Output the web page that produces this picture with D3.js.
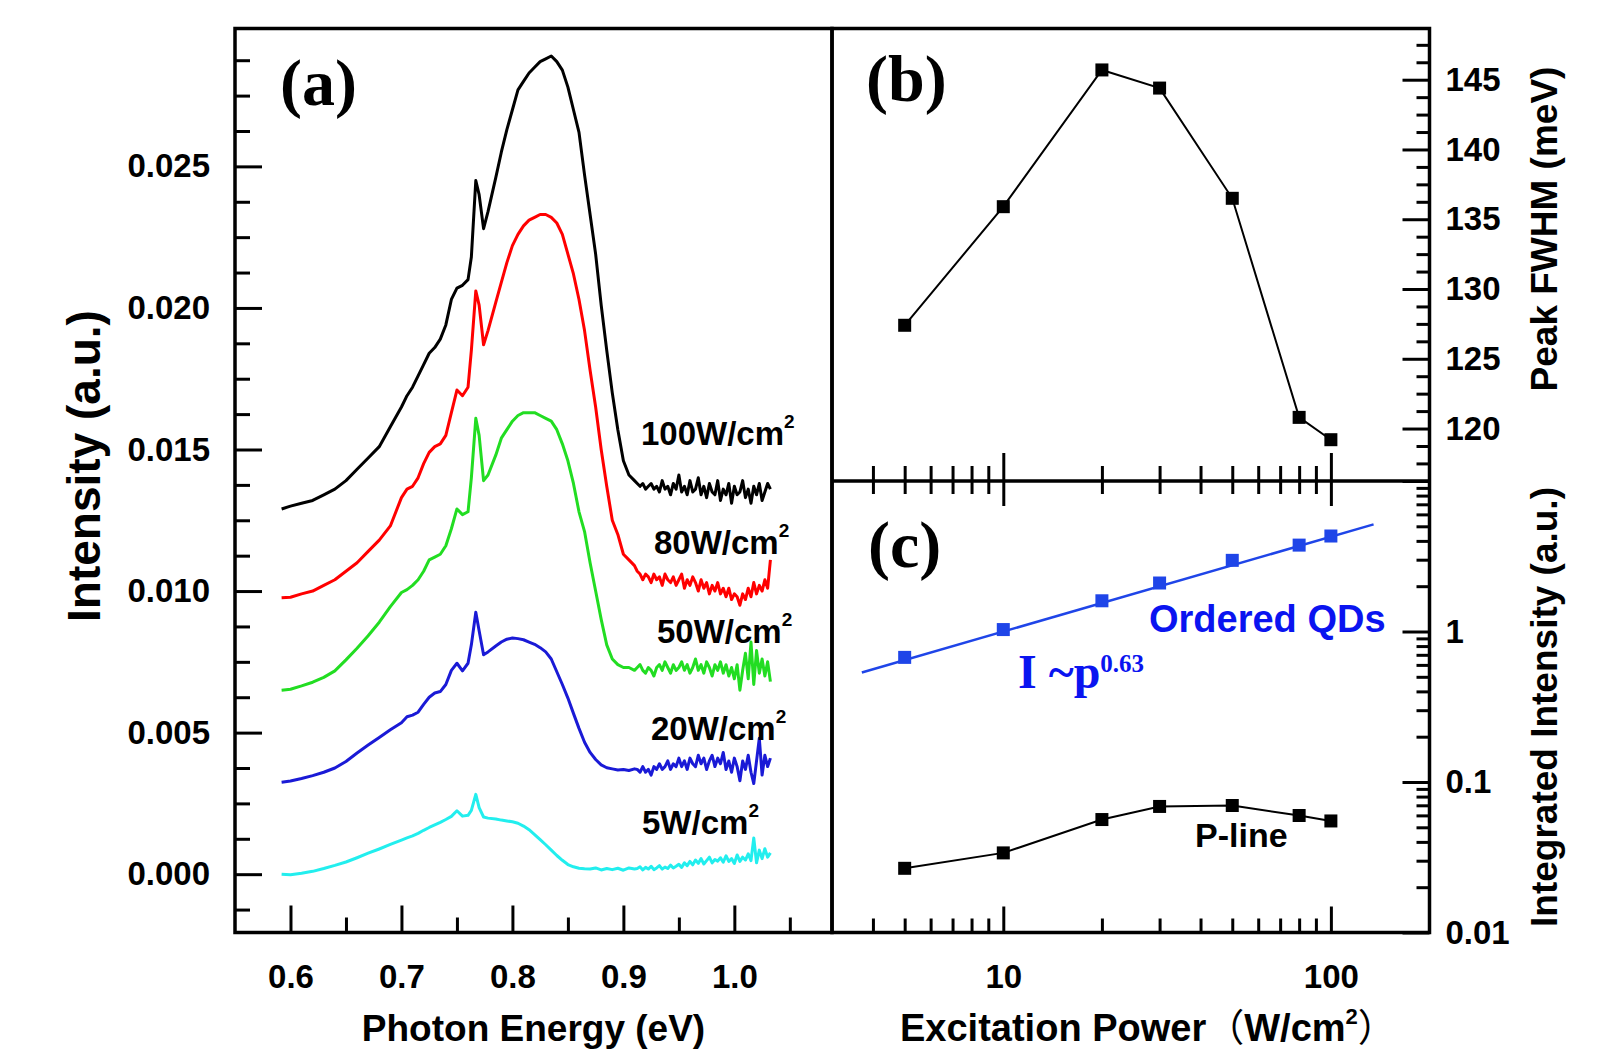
<!DOCTYPE html>
<html>
<head>
<meta charset="utf-8">
<title>PL spectra vs excitation power</title>
<script src="https://cdn.jsdelivr.net/npm/d3@7/dist/d3.min.js"></script>
<style>
  body { margin: 0; background: #fff; }
</style>
</head>
<body>
<div id="chart"></div>
<script>
// (a) PL spectra - photon energy (eV), intensity (a.u.)
const energy = [
  0.592, 0.600, 0.610, 0.620, 0.630, 0.640, 0.650, 0.660, 0.670, 0.680,
  0.690, 0.700, 0.705, 0.710, 0.715, 0.720, 0.725, 0.730, 0.735, 0.740,
  0.745, 0.750, 0.755, 0.760, 0.763, 0.767, 0.770, 0.774, 0.778, 0.785,
  0.790, 0.795, 0.800, 0.805, 0.810, 0.815, 0.820, 0.825, 0.830, 0.835,
  0.840, 0.845, 0.850, 0.855, 0.860, 0.865, 0.870, 0.875, 0.880, 0.885,
  0.890, 0.895, 0.900, 0.905, 0.910,
  0.9125, 0.915, 0.9175, 0.920, 0.9225, 0.925, 0.9275, 0.930, 0.9325, 0.935,
  0.9375, 0.940, 0.9425, 0.945, 0.9475, 0.950, 0.9525, 0.955, 0.9575, 0.960,
  0.9625, 0.965, 0.9675, 0.970, 0.9725, 0.975, 0.9775, 0.980, 0.9825, 0.985,
  0.9875, 0.990, 0.9925, 0.995, 0.9975, 1.000, 1.0025, 1.005, 1.0075, 1.010,
  1.0125, 1.015, 1.0175, 1.020, 1.0225, 1.025, 1.0275, 1.030, 1.0325
];

const int100 = [
  0.0129, 0.0130, 0.0131, 0.0132, 0.0134, 0.0136, 0.0139, 0.0143, 0.0147, 0.0151,
  0.0158, 0.0165, 0.0169, 0.0172, 0.0176, 0.0180, 0.0184, 0.0186, 0.0189, 0.0194,
  0.0203, 0.0207, 0.0208, 0.0210, 0.0218, 0.0245, 0.0240, 0.0228, 0.0234, 0.0246,
  0.0255, 0.0263, 0.0270, 0.0277, 0.0280, 0.0283, 0.0285, 0.0287, 0.0288, 0.0289,
  0.0287, 0.0284, 0.0278, 0.0270, 0.0262, 0.0247, 0.0233, 0.0219, 0.0201, 0.0185,
  0.0170, 0.0157, 0.0146, 0.0141, 0.0139,
  0.0138, 0.0137, 0.0138, 0.0136, 0.0137, 0.0138, 0.0136, 0.0137, 0.0135, 0.0139,
  0.0136, 0.0137, 0.0134, 0.0138, 0.0136, 0.0141, 0.0135, 0.0137, 0.0134, 0.0139,
  0.0135, 0.0136, 0.0140, 0.0134, 0.0137, 0.0133, 0.0138, 0.0135, 0.0134, 0.0139,
  0.0132, 0.0136, 0.0134, 0.0138, 0.0131, 0.0137, 0.0134, 0.0135, 0.0139, 0.0133,
  0.0136, 0.0131, 0.0137, 0.0134, 0.0138, 0.0132, 0.0135, 0.0138, 0.0136
];

const int80 = [
  0.00976, 0.00978, 0.0099, 0.0100, 0.0102, 0.0104, 0.0107, 0.0110, 0.0114, 0.0118,
  0.0123, 0.0133, 0.0136, 0.0137, 0.0140, 0.0145, 0.0149, 0.0151, 0.0152, 0.0155,
  0.0163, 0.0171, 0.0169, 0.0172, 0.0185, 0.0206, 0.0201, 0.0187, 0.0192, 0.0202,
  0.0209, 0.0216, 0.0222, 0.0226, 0.0229, 0.0231, 0.0232, 0.0233, 0.0233, 0.0232,
  0.0230, 0.0226, 0.0219, 0.0212, 0.0203, 0.0192, 0.0178, 0.0165, 0.0150, 0.0137,
  0.0125, 0.0120, 0.0113, 0.0111, 0.0109,
  0.0107, 0.0106, 0.0104, 0.0106, 0.0105, 0.0103, 0.0106, 0.0104, 0.0105, 0.0102,
  0.0106, 0.0104, 0.0103, 0.0105, 0.0102, 0.0104, 0.0106, 0.0101, 0.0104, 0.0102,
  0.0105, 0.0103, 0.0100, 0.0104, 0.0101, 0.0103, 0.0099, 0.0102, 0.0100, 0.0103,
  0.0099, 0.0101, 0.0098, 0.0101, 0.0097, 0.0099, 0.0098, 0.0095, 0.0099, 0.0097,
  0.0101, 0.0098, 0.0103, 0.0099, 0.0102, 0.0100, 0.0104, 0.0101, 0.0111
];

const int50 = [
  0.00650, 0.00653, 0.00665, 0.00678, 0.00695, 0.00718, 0.00757, 0.00798, 0.00842, 0.00890,
  0.00945, 0.00995, 0.01005, 0.0102, 0.0104, 0.0107, 0.0111, 0.0112, 0.0113, 0.0116,
  0.0122, 0.0129, 0.0127, 0.0128, 0.0140, 0.0161, 0.0155, 0.0139, 0.0141, 0.0148,
  0.0154, 0.0157, 0.0160, 0.0162, 0.0163, 0.0163, 0.0163, 0.0162, 0.0161, 0.0160,
  0.0157, 0.0152, 0.0146, 0.0138, 0.0128, 0.0121, 0.0110, 0.0100, 0.0090, 0.0081,
  0.0076, 0.0074, 0.0073, 0.0073, 0.0072,
  0.0073, 0.0074, 0.0072, 0.0071, 0.0073, 0.0072, 0.0070, 0.0073, 0.0074, 0.0072,
  0.0075, 0.0073, 0.0071, 0.0074, 0.0072, 0.0073, 0.0075, 0.0072, 0.0074, 0.0071,
  0.0073, 0.0076, 0.0072, 0.0074, 0.0071, 0.0075, 0.0073, 0.0070, 0.0074, 0.0072,
  0.0075, 0.0071, 0.0074, 0.0070, 0.0073, 0.0069, 0.0074, 0.0065, 0.0072, 0.0078,
  0.0069, 0.0082, 0.0067, 0.0079, 0.0071, 0.0076, 0.0070, 0.0075, 0.0068
];

const int20 = [
  0.00325, 0.00329, 0.00338, 0.00348, 0.00360, 0.00375, 0.00398, 0.00428, 0.00456, 0.00483,
  0.00510, 0.00535, 0.00556, 0.00562, 0.00572, 0.00600, 0.00625, 0.00640, 0.00645, 0.00670,
  0.00720, 0.00745, 0.00718, 0.00745, 0.00810, 0.00925, 0.00860, 0.00775, 0.00785, 0.00806,
  0.00820, 0.00830, 0.00834, 0.00832, 0.00828, 0.00820, 0.00812, 0.00800, 0.00785, 0.00760,
  0.00715, 0.00670, 0.00622, 0.00568, 0.00515, 0.00466, 0.00430, 0.00405, 0.00386, 0.00376,
  0.00372, 0.00368, 0.00370, 0.00366, 0.00372,
  0.0037, 0.0036, 0.0038, 0.0036, 0.0037, 0.0035, 0.0038, 0.0037, 0.0039, 0.0037,
  0.0038, 0.0040, 0.0037, 0.0039, 0.0038, 0.0041, 0.0038, 0.0040, 0.0037, 0.0041,
  0.0039, 0.0038, 0.0042, 0.0039, 0.0041, 0.0037, 0.0040, 0.0042, 0.0038, 0.0041,
  0.0039, 0.0043, 0.0037, 0.0040, 0.0036, 0.0041, 0.0038, 0.0033, 0.0040, 0.0037,
  0.0042, 0.0036, 0.0032, 0.0040, 0.0048, 0.0035, 0.0042, 0.0038, 0.0041
];

const int5 = [
  0.00000, -0.00002, 0.00003, 0.00010, 0.00020, 0.00031, 0.00043, 0.00058, 0.00074, 0.00089,
  0.00105, 0.00120, 0.00128, 0.00135, 0.00144, 0.00155, 0.00165, 0.00174, 0.00183, 0.00193,
  0.00204, 0.00224, 0.00205, 0.00208, 0.00225, 0.00282, 0.00235, 0.00202, 0.00198, 0.00195,
  0.00191, 0.00188, 0.00185, 0.00180, 0.00170, 0.00157, 0.00140, 0.00122, 0.00104, 0.00085,
  0.00066, 0.00049, 0.00034, 0.00026, 0.00021, 0.00019, 0.00018, 0.00022, 0.00015, 0.00020,
  0.00016, 0.00021, 0.00014, 0.00022, 0.00018,
  0.00020, 0.00026, 0.00015, 0.00024, 0.00018, 0.00028, 0.00016, 0.00022, 0.00030, 0.00018,
  0.00025, 0.00020, 0.00032, 0.00022, 0.00028, 0.00035, 0.00024, 0.00040, 0.00030, 0.00045,
  0.00033, 0.00050, 0.00038, 0.00055, 0.00036, 0.00048, 0.00060, 0.00040, 0.00052, 0.00046,
  0.00058, 0.00042, 0.00065, 0.00045, 0.00055, 0.00038, 0.00068, 0.00045, 0.00060, 0.00050,
  0.00072, 0.00048, 0.00128, 0.00040, 0.00085, 0.00055, 0.00090, 0.00060, 0.00075
];

const powerLabels = ["100", "80", "50", "20", "5"];

// (b) Peak FWHM (meV) vs excitation power (W/cm2)
const powerB = [5, 10, 20, 30, 50, 80, 100];
const fwhm = [127.4, 135.9, 145.7, 144.4, 136.5, 120.8, 119.2];

// (c) Integrated intensity (a.u.) vs excitation power
const powerC = [5, 10, 20, 30, 50, 80, 100];
const qdIntensity = [0.673, 1.03, 1.60, 2.10, 2.97, 3.75, 4.31];
const pLineIntensity = [0.0267, 0.0338, 0.0563, 0.0688, 0.0698, 0.0599, 0.0551];
const fitPower = [3.7, 135];
const fitIntensity = [0.534, 5.15];

// Tick labels
const energyTicks = [0.6, 0.7, 0.8, 0.9, 1.0];
const energyMinor = [0.65, 0.75, 0.85, 0.95, 1.05];
const intensityTicks = [0, 0.005, 0.01, 0.015, 0.02, 0.025];
const fwhmTicks = [120, 125, 130, 135, 140, 145];
const powerTicks = [10, 100];
const powerMinor = [4, 5, 6, 7, 8, 9, 20, 30, 40, 50, 60, 70, 80, 90];
const intCTicks = [0.01, 0.1, 1, 10];

// Styles
const SANS = "Arial, 'Liberation Sans', sans-serif";
const SERIF = "'Times New Roman', 'Liberation Serif', serif";
const CJK = "'Noto Sans CJK SC', 'Noto Sans CJK JP', sans-serif";
const lineColors = ["#000000", "#ff0000", "#22dd22", "#1a1ad6", "#22eeee"];
const qdBlue = "#1f45e8";

const svg = d3.select("#chart")
  .append("svg")
  .attr("width", 1608)
  .attr("height", 1051)
  .style("background", "#fff");

function styleAxis(g, size) {
  g.select(".domain").remove();
  g.selectAll(".tick line").attr("stroke", "#000").attr("stroke-width", 3);
  g.selectAll(".tick text").attr("fill", "#000");
  g.attr("font-family", SANS).attr("font-weight", "bold").attr("font-size", size);
}

function addTicks(axis, y, x, size) {
  var g = svg.append("g").attr("transform", "translate(" + x + "," + y + ")").call(axis);
  styleAxis(g, size || 33);
  return g;
}

// Panel (a)
class SpectraPanel {
  constructor() {
    this.initVis();
  }

  initVis() {
    var self = this;
    self.left = 235; self.right = 832; self.top = 28.5; self.bottom = 932.5;

    // Scales
    self.x = d3.scaleLinear().domain([0.55, 1.088]).range([self.left, self.right]);
    self.y = d3.scaleLinear().domain([-0.00206, 0.02987]).range([self.bottom, self.top]);

    // Minor ticks every 0.00125
    self.yMinor = d3.range(-0.00125, 0.0295, 0.00125)
      .filter(v => Math.abs(Math.round(v / 0.00125)) % 4 !== 0);

    addTicks(d3.axisLeft(self.y).tickValues(intensityTicks).tickSize(-27)
      .tickPadding(25).tickFormat(d3.format(".3f")), 0, self.left);
    addTicks(d3.axisLeft(self.y).tickValues(self.yMinor).tickSize(-15)
      .tickFormat(""), 0, self.left);
    addTicks(d3.axisBottom(self.x).tickValues(energyTicks).tickSize(-27)
      .tickPadding(32).tickFormat(d3.format(".1f")), self.bottom, 0);
    addTicks(d3.axisBottom(self.x).tickValues(energyMinor).tickSize(-15)
      .tickFormat(""), self.bottom, 0);

    self.updateVis();
  }

  updateVis() {
    var self = this;
    const series = [int100, int80, int50, int20, int5];

    const line = d3.line()
      .x((d, i) => self.x(energy[i]))
      .y(d => self.y(d));

    svg.append("g")
      .selectAll("path")
      .data(series)
      .join("path")
      .attr("fill", "none")
      .attr("stroke", (d, i) => lineColors[i])
      .attr("stroke-width", 3)
      .attr("stroke-linejoin", "round")
      .attr("d", d => line(d));

    // Power labels
    const labelPos = [[641, 445], [654, 554], [657, 643], [651, 740], [642, 834]];
    const labels = svg.append("g")
      .attr("font-family", SANS)
      .attr("font-weight", "bold")
      .selectAll("text")
      .data(powerLabels)
      .join("text")
      .attr("x", (d, i) => labelPos[i][0])
      .attr("y", (d, i) => labelPos[i][1])
      .attr("font-size", 33);
    labels.append("tspan").text(d => d + "W/cm");
    labels.append("tspan").attr("font-size", 19).attr("dy", -17).text("2");

    svg.append("text")
      .attr("x", 280).attr("y", 105)
      .attr("font-family", SERIF).attr("font-weight", "bold")
      .attr("font-size", 66)
      .text("(a)");
  }
}

// Panels (b) and (c), sharing the power axis
class PowerPanels {
  constructor() {
    this.initVis();
  }

  initVis() {
    var self = this;
    self.left = 832; self.right = 1429.5; self.top = 28.5; self.mid = 481; self.bottom = 932.5;

    // Scales
    self.x = d3.scaleLog().domain([3, 200]).range([self.left, self.right]);
    self.yB = d3.scaleLinear().domain([116.24, 148.67]).range([self.mid, self.top]);
    self.yC = d3.scaleLog().domain([0.01, 10]).range([self.bottom, self.mid]);

    self.fwhmMinor = d3.range(117.5, 148, 1.25).filter(v => Math.abs(v % 5) > 0.01);
    self.cMinor = [];
    [0.01, 0.1, 1].forEach(dec => d3.range(2, 10).forEach(k => self.cMinor.push(dec * k)));

    // (b) right axis
    addTicks(d3.axisRight(self.yB).tickValues(fwhmTicks).tickSize(-27)
      .tickPadding(16).tickFormat(d3.format("d")), 0, self.right);
    addTicks(d3.axisRight(self.yB).tickValues(self.fwhmMinor).tickSize(-13)
      .tickFormat(""), 0, self.right);

    // (c) right axis
    addTicks(d3.axisRight(self.yC).tickValues(intCTicks).tickSize(-27)
      .tickPadding(16).tickFormat(d => d === 10 ? "" : d3.format("~g")(d)), 0, self.right);
    addTicks(d3.axisRight(self.yC).tickValues(self.cMinor).tickSize(-13)
      .tickFormat(""), 0, self.right);

    // Power axes on the divider line and at the bottom
    addTicks(d3.axisBottom(self.x).tickValues(powerTicks).tickSize(-28).tickFormat(""), self.mid, 0);
    addTicks(d3.axisBottom(self.x).tickValues(powerMinor).tickSize(-15).tickFormat(""), self.mid, 0);
    addTicks(d3.axisTop(self.x).tickValues(powerTicks).tickSize(-25).tickFormat(""), self.mid, 0);
    addTicks(d3.axisTop(self.x).tickValues(powerMinor).tickSize(-13).tickFormat(""), self.mid, 0);
    addTicks(d3.axisBottom(self.x).tickValues(powerTicks).tickSize(-26)
      .tickPadding(32).tickFormat(d3.format("d")), self.bottom, 0);
    addTicks(d3.axisBottom(self.x).tickValues(powerMinor).tickSize(-14).tickFormat(""), self.bottom, 0);

    self.updateVis();
  }

  updateVis() {
    var self = this;
    const size = 13;

    // (b) FWHM line + squares
    const lineB = d3.line().x((d, i) => self.x(powerB[i])).y(d => self.yB(d));
    svg.append("path")
      .attr("fill", "none").attr("stroke", "#000").attr("stroke-width", 2)
      .attr("d", lineB(fwhm));
    svg.append("g").selectAll("rect").data(fwhm).join("rect")
      .attr("x", (d, i) => self.x(powerB[i]) - size / 2)
      .attr("y", d => self.yB(d) - size / 2)
      .attr("width", size).attr("height", size).attr("fill", "#000");

    // (c) power-law fit and ordered QDs
    const lineFit = d3.line().x((d, i) => self.x(fitPower[i])).y(d => self.yC(d));
    svg.append("path")
      .attr("fill", "none").attr("stroke", qdBlue).attr("stroke-width", 2.5)
      .attr("d", lineFit(fitIntensity));
    svg.append("g").selectAll("rect").data(qdIntensity).join("rect")
      .attr("x", (d, i) => self.x(powerC[i]) - size / 2)
      .attr("y", d => self.yC(d) - size / 2)
      .attr("width", size).attr("height", size).attr("fill", qdBlue);

    // (c) P-line
    const lineP = d3.line().x((d, i) => self.x(powerC[i])).y(d => self.yC(d));
    svg.append("path")
      .attr("fill", "none").attr("stroke", "#000").attr("stroke-width", 2)
      .attr("d", lineP(pLineIntensity));
    svg.append("g").selectAll("rect").data(pLineIntensity).join("rect")
      .attr("x", (d, i) => self.x(powerC[i]) - size / 2)
      .attr("y", d => self.yC(d) - size / 2)
      .attr("width", size).attr("height", size).attr("fill", "#000");

    // Annotations
    svg.append("text")
      .attr("x", 1149).attr("y", 632)
      .attr("font-family", SANS).attr("font-weight", "bold").attr("font-size", 38)
      .attr("fill", "#0a14f0")
      .text("Ordered QDs");

    const law = svg.append("text")
      .attr("x", 1018).attr("y", 688)
      .attr("font-family", SERIF).attr("font-weight", "bold").attr("font-size", 48)
      .attr("fill", "#0a14f0");
    law.append("tspan").text("I ~p");
    law.append("tspan").attr("font-size", 25).attr("dy", -16).text("0.63");

    svg.append("text")
      .attr("x", 1195).attr("y", 847)
      .attr("font-family", SANS).attr("font-weight", "bold").attr("font-size", 34)
      .text("P-line");

    svg.append("text")
      .attr("x", 866).attr("y", 101)
      .attr("font-family", SERIF).attr("font-weight", "bold").attr("font-size", 66)
      .text("(b)");
    svg.append("text")
      .attr("x", 868).attr("y", 567)
      .attr("font-family", SERIF).attr("font-weight", "bold").attr("font-size", 66)
      .text("(c)");
  }
}

new SpectraPanel();
new PowerPanels();

// Frames
svg.append("rect")
  .attr("x", 235).attr("y", 28.5).attr("width", 832 - 235).attr("height", 932.5 - 28.5)
  .attr("fill", "none").attr("stroke", "#000").attr("stroke-width", 3.5);
svg.append("rect")
  .attr("x", 832).attr("y", 28.5).attr("width", 1429.5 - 832).attr("height", 932.5 - 28.5)
  .attr("fill", "none").attr("stroke", "#000").attr("stroke-width", 3.5);
svg.append("line")
  .attr("x1", 832).attr("x2", 1429.5).attr("y1", 481).attr("y2", 481)
  .attr("stroke", "#000").attr("stroke-width", 3.5);

// Axis titles
const titles = svg.append("g")
  .attr("font-family", SANS)
  .attr("font-weight", "bold")
  .attr("fill", "#000");

titles.append("text")
  .attr("transform", "translate(100,466) rotate(-90)")
  .attr("text-anchor", "middle")
  .attr("font-size", 46)
  .text("Intensity (a.u.)");

titles.append("text")
  .attr("x", 533.5).attr("y", 1041)
  .attr("text-anchor", "middle")
  .attr("font-size", 37)
  .text("Photon Energy (eV)");

const xTitle = titles.append("text")
  .attr("x", 900).attr("y", 1041)
  .attr("font-size", 38);
xTitle.append("tspan").text("Excitation Power");
xTitle.append("tspan").attr("font-family", CJK).attr("font-weight", "normal").text("（");
xTitle.append("tspan").text("W/cm");
xTitle.append("tspan").attr("font-size", 22).attr("dy", -17).text("2");
xTitle.append("tspan").attr("font-family", CJK).attr("font-weight", "normal")
  .attr("dy", 17).text("）");

titles.append("text")
  .attr("transform", "translate(1557,229) rotate(-90)")
  .attr("text-anchor", "middle")
  .attr("font-size", 37)
  .text("Peak FWHM (meV)");

titles.append("text")
  .attr("transform", "translate(1557,707) rotate(-90)")
  .attr("text-anchor", "middle")
  .attr("font-size", 37)
  .text("Integrated Intensity (a.u.)");
</script>
</body>
</html>
